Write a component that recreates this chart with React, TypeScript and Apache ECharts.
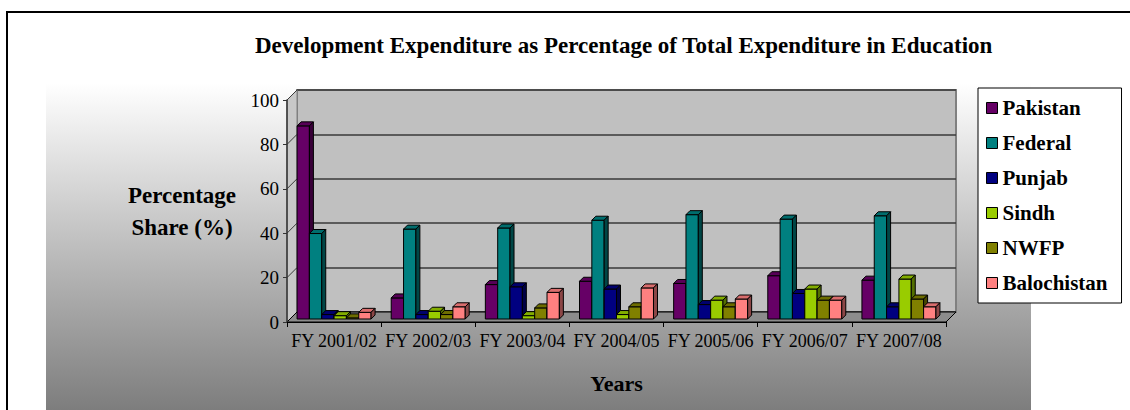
import React, { useEffect, useRef } from "react";
import * as echarts from "echarts";

// ---- data ----
const categories = ["FY 2001/02", "FY 2002/03", "FY 2003/04", "FY 2004/05", "FY 2005/06", "FY 2006/07", "FY 2007/08"];
const seriesNames = ["Pakistan", "Federal", "Punjab", "Sindh", "NWFP", "Balochistan"];
const pakistan = [87, 9.5, 15.5, 17, 16, 19.5, 17.5];
const federal = [38.5, 40.5, 41, 44.5, 47, 45, 46.5];
const punjab = [2, 2, 14.5, 13.5, 6.5, 11.5, 5.5];
const sindh = [1.5, 3.5, 1.5, 2, 8.5, 13.5, 18];
const nwfp = [0.5, 2, 5, 5.5, 5.5, 8.5, 9];
const balochistan = [3, 5.5, 12, 14, 9, 8.5, 5.5];
const seriesValues = [pakistan, federal, punjab, sindh, nwfp, balochistan];
const yTicks = [0, 20, 40, 60, 80, 100];

// ---- styles ----
const colors = ["#660066", "#008080", "#000080", "#99CC00", "#808000", "#FF8080"];
const FONT = "Liberation Serif";

// layout
const FRONT = { left: 287, top: 100, width: 659, height: 222 };
const DX = 10;
const DY = -10;
const BAR_FRAC = 0.131;
const LIFT = -3;
const DEPTH = 4;

function shade(hex: string, f: number) {
  const n = parseInt(hex.slice(1), 16);
  const r = Math.round(((n >> 16) & 255) * f);
  const g = Math.round(((n >> 8) & 255) * f);
  const b = Math.round((n & 255) * f);
  return `rgb(${r},${g},${b})`;
}

function makeRender(idx: number) {
  return (params: any, api: any) => {
    const ci = api.value(0);
    const v = api.value(1);
    const p0 = api.coord([ci, 0]);
    const p1 = api.coord([ci, v]);
    const band = api.size([1, 0])[0];
    const w = band * BAR_FRAC;
    const x = p0[0] - 3 * w + idx * w;
    const yb = p0[1] + LIFT;
    const yt = p1[1] + LIFT;
    const d = DEPTH;
    const c = colors[idx];
    return {
      type: "group",
      children: [
        {
          type: "rect",
          shape: { x, y: yt, width: w, height: Math.max(0, yb - yt) },
          style: { fill: c, stroke: "#000", lineWidth: 1 },
        },
        {
          type: "polygon",
          shape: { points: [[x, yt], [x + d, yt - d], [x + w + d, yt - d], [x + w, yt]] },
          style: { fill: shade(c, 0.85), stroke: "#000", lineWidth: 1 },
        },
        {
          type: "polygon",
          shape: { points: [[x + w, yt], [x + w + d, yt - d], [x + w + d, yb - d], [x + w, yb]] },
          style: { fill: shade(c, 0.55), stroke: "#000", lineWidth: 1 },
        },
      ],
    };
  };
}

export default function App() {
  const ref = useRef<HTMLDivElement>(null);
  useEffect(() => {
    if (!ref.current) return;
    const chart = echarts.init(ref.current, null, { renderer: "svg" });
    const bottom = FRONT.top + FRONT.height;
    const right = FRONT.left + FRONT.width;
    const yOf = (v: number) => bottom - (v / 100) * FRONT.height;

    const sideLines = yTicks.map((t) => ({
      type: "line",
      z: 1,
      shape: { x1: FRONT.left, y1: yOf(t), x2: FRONT.left + DX, y2: yOf(t) + DY },
      style: { stroke: "#3a3a3a", lineWidth: 1 },
    }));

    const option: any = {
      animation: false,
      backgroundColor: "#fff",
      textStyle: { fontFamily: FONT },
      title: {
        text: "Development Expenditure as Percentage of Total Expenditure in Education",
        left: 250,
        top: 29,
        textStyle: { fontFamily: FONT, fontSize: 23, fontWeight: "bold", color: "#000" },
      },
      legend: {
        orient: "vertical",
        left: 978,
        top: 88,
        padding: [9, 14, 9, 8],
        itemGap: 13,
        itemWidth: 11,
        itemHeight: 11,
        itemTextGap: 4,
        icon: "rect",
        backgroundColor: "#fff",
        borderColor: "#000",
        borderWidth: 1,
        itemStyle: { borderColor: "#000", borderWidth: 1 },
        textStyle: { fontFamily: FONT, fontSize: 21, fontWeight: "bold", color: "#000", lineHeight: 22 },
        data: seriesNames,
      },
      grid: [
        { left: FRONT.left, top: FRONT.top, width: FRONT.width, height: FRONT.height, containLabel: false },
        {
          left: FRONT.left + DX,
          top: FRONT.top + DY,
          width: FRONT.width,
          height: FRONT.height,
          show: true,
          backgroundColor: "#C0C0C0",
          borderColor: "#808080",
          borderWidth: 2,
        },
      ],
      xAxis: [
        {
          type: "category",
          gridIndex: 0,
          data: categories,
          axisLine: { lineStyle: { color: "#000", width: 1 } },
          axisTick: { show: true, length: 5, lineStyle: { color: "#000" } },
          axisLabel: { fontFamily: FONT, fontSize: 18, color: "#000", margin: 10, interval: 0 },
          name: "Years",
          nameLocation: "middle",
          nameGap: 50,
          nameTextStyle: { fontFamily: FONT, fontSize: 22, fontWeight: "bold", color: "#000" },
          z: 3,
        },
        { type: "category", gridIndex: 1, data: categories, show: false },
      ],
      yAxis: [
        {
          type: "value",
          gridIndex: 0,
          min: 0,
          max: 100,
          interval: 20,
          axisLine: { show: true, lineStyle: { color: "#333", width: 1.5 } },
          axisTick: { show: true, length: 4, lineStyle: { color: "#333" } },
          axisLabel: { fontFamily: FONT, fontSize: 19, color: "#000", margin: 8 },
          splitLine: { show: false },
          z: 3,
        },
        {
          type: "value",
          gridIndex: 1,
          min: 0,
          max: 100,
          interval: 20,
          axisLine: { show: false },
          axisTick: { show: false },
          axisLabel: { show: false },
          splitLine: { show: true, lineStyle: { color: "#3a3a3a", width: 1.5 } },
        },
      ],
      graphic: [
        {
          type: "rect",
          z: -10,
          shape: { x: 46, y: 83, width: 985, height: 340 },
          style: {
            fill: new echarts.graphic.LinearGradient(0, 0, 0, 1, [
              { offset: 0, color: "#ffffff" },
              { offset: 1, color: "#787878" },
            ]),
          },
        },
        {
          type: "rect",
          z: 10,
          shape: { x: 7, y: 12, width: 1140, height: 420 },
          style: { fill: "none", stroke: "#000", lineWidth: 2 },
        },
        {
          type: "polygon",
          z: 1,
          shape: {
            points: [
              [FRONT.left, bottom],
              [FRONT.left, FRONT.top],
              [FRONT.left + DX, FRONT.top + DY],
              [FRONT.left + DX, bottom + DY],
            ],
          },
          style: { fill: "#C8C8C8", stroke: "#808080", lineWidth: 1 },
        },
        ...sideLines,
        {
          type: "polygon",
          z: 1,
          shape: {
            points: [
              [FRONT.left, bottom],
              [right, bottom],
              [right + DX, bottom + DY],
              [FRONT.left + DX, bottom + DY],
            ],
          },
          style: { fill: "#8C8C8C", stroke: "#000", lineWidth: 1 },
        },
        {
          type: "text",
          z: 5,
          style: {
            text: "Percentage\nShare (%)",
            x: 182,
            y: 211,
            align: "center",
            verticalAlign: "middle",
            font: `bold 23px ${FONT}`,
            lineHeight: 32,
            fill: "#000",
          },
        },
      ],
      series: seriesValues.map((vals, idx) => ({
        type: "custom",
        name: seriesNames[idx],
        xAxisIndex: 0,
        yAxisIndex: 0,
        z: 2,
        clip: false,
        itemStyle: { color: colors[idx] },
        encode: { x: 0, y: 1 },
        data: vals.map((v, i) => [i, v]),
        renderItem: makeRender(idx),
      })),
    };
    chart.setOption(option);
    return () => chart.dispose();
  }, []);
  return <div ref={ref} style={{ position: "fixed", left: 0, top: 0, width: 1130, height: 410 }} />;
}
